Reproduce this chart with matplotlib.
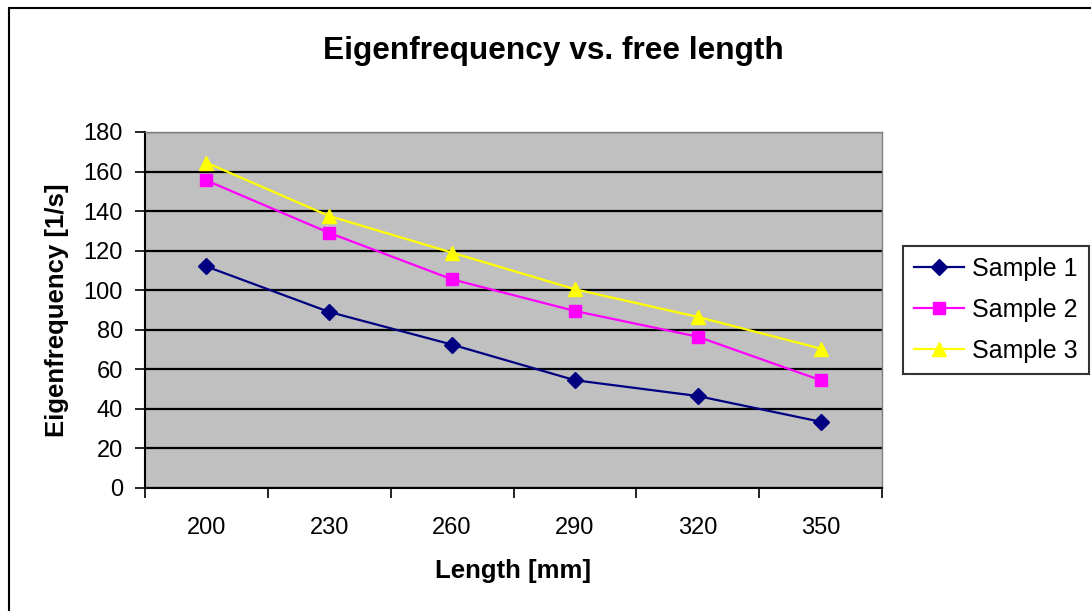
import matplotlib.pyplot as plt
from matplotlib.patches import Rectangle

# chart data
lengths = ['200', '230', '260', '290', '320', '350']
sample1 = [112, 89, 72.5, 54.5, 46.5, 33.5]
sample2 = [155.5, 129, 105.5, 89.5, 76.5, 54.5]
sample3 = [164.5, 137.5, 119, 100.5, 86.5, 70.5]
series_names = ['Sample 1', 'Sample 2', 'Sample 3']
y_ticks = list(range(0, 181, 20))

plt.rcParams['font.family'] = ['Liberation Sans', 'DejaVu Sans']

fig = plt.figure(figsize=(10.91, 6.11), dpi=100)
# outer chart border (runs off the right and bottom edge)
fig.patches.append(Rectangle((9 / 1091, -0.05), 1.1, 1.05 - 8 / 611, transform=fig.transFigure,
                             fill=False, edgecolor='black', linewidth=1.5))

ax = fig.add_axes([145 / 1091, (611 - 488) / 611, 737 / 1091, 356 / 611])
ax.set_facecolor('#c0c0c0')

x = list(range(len(lengths)))
ax.plot(x, sample1, color='#000080', marker='D', markersize=8, linewidth=1.6, label=series_names[0])
ax.plot(x, sample2, color='#ff00ff', marker='s', markersize=8, linewidth=1.6, label=series_names[1])
ax.plot(x, sample3, color='#ffff00', marker='^', markersize=10, linewidth=1.6, label=series_names[2])

ax.set_xlim(-0.5, len(lengths) - 0.5)
ax.set_ylim(0, 180)
ax.set_yticks(y_ticks)
ax.set_yticklabels([str(v) for v in y_ticks], fontsize=17)
ax.set_xticks(x)
ax.set_xticklabels(lengths, fontsize=17)
ax.set_xticks([i - 0.5 for i in range(len(lengths) + 1)], minor=True)
ax.tick_params(axis='x', which='major', length=0, pad=21)
ax.tick_params(axis='x', which='minor', length=7, width=1.2, direction='out')
ax.tick_params(axis='y', length=7, width=1.2, direction='out', pad=9)

ax.grid(axis='y', color='black', linewidth=1.6)
ax.set_axisbelow(True)

for s in ['top', 'right']:
    ax.spines[s].set_color('#808080')
    ax.spines[s].set_linewidth(1.0)
for s in ['left', 'bottom']:
    ax.spines[s].set_color('black')
    ax.spines[s].set_linewidth(1.5)

ax.set_xlabel('Length [mm]', fontsize=18.5, fontweight='bold', labelpad=14)
ax.set_ylabel('Eigenfrequency [1/s]', fontsize=18.5, fontweight='bold', labelpad=10)
fig.text(553 / 1091, 1 - 51 / 611, 'Eigenfrequency vs. free length', fontsize=22.8,
         fontweight='bold', ha='center', va='center')

leg = ax.legend(loc='center left', fontsize=18, frameon=True, fancybox=False,
                handlelength=2.0, handletextpad=0.3, borderpad=0.45, labelspacing=0.68,
                borderaxespad=0)
leg.set_bbox_to_anchor((903 / 1091, (611 - 310) / 611), transform=fig.transFigure)
leg.get_frame().set_edgecolor('black')
leg.get_frame().set_linewidth(1.5)

fig.savefig('out.png', dpi=100)
